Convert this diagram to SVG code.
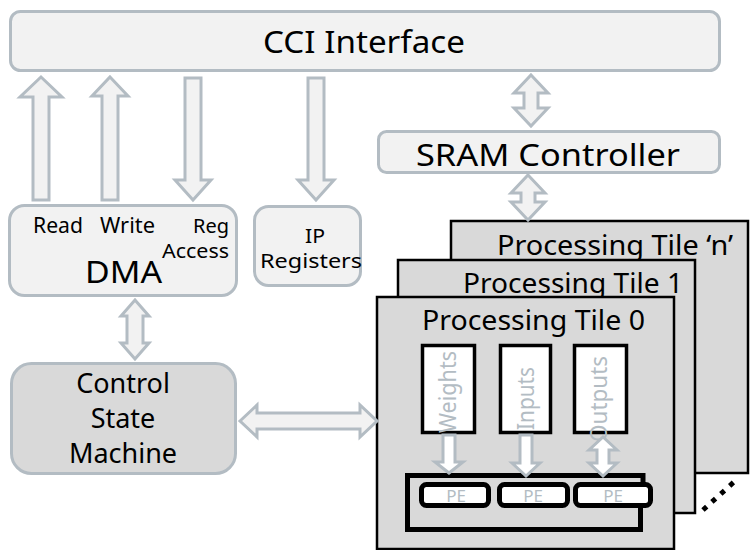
<svg xmlns="http://www.w3.org/2000/svg" width="751" height="550" viewBox="0 0 751 550">
  <style>
    text { font-family: "Noto Sans", "Open Sans", sans-serif; fill: #000; }
    .box { fill: #f2f2f2; stroke: #b3bcc3; stroke-width: 3; }
    .dark { fill: #d9d9d9; stroke: #b3bcc3; stroke-width: 3; }
    .arrow { fill: #f2f2f2; stroke: #b3bcc3; stroke-width: 3; stroke-linejoin: miter; }
    .tile { fill: #d9d9d9; stroke: #000; stroke-width: 2.5; }
    .buf { fill: #fff; stroke: #000; stroke-width: 3.5; }
    .pe { fill: #fff; stroke: #000; stroke-width: 5; }
    .warrow { fill: #fff; stroke: #b3bcc3; stroke-width: 3; }
    .grey { fill: #b3bcc3; }
  </style>

  <!-- top-level blocks -->
  <g id="cci">
    <rect class="box" x="10.5" y="11.5" width="709" height="59" rx="10"/>
    <text x="364" y="53" font-size="31" text-anchor="middle" textLength="202" lengthAdjust="spacingAndGlyphs">CCI Interface</text>
  </g>

  <g id="sram">
    <rect class="box" x="378.5" y="131.5" width="341" height="41" rx="8"/>
    <text x="548" y="166" font-size="31" text-anchor="middle" textLength="264" lengthAdjust="spacingAndGlyphs">SRAM Controller</text>
  </g>

  <g id="dma">
    <rect class="box" x="9.5" y="205.5" width="227" height="90" rx="15"/>
    <text x="33" y="233" font-size="21" textLength="50" lengthAdjust="spacingAndGlyphs">Read</text>
    <text x="100" y="233" font-size="21" textLength="55" lengthAdjust="spacingAndGlyphs">Write</text>
    <text x="229" y="233" font-size="20" text-anchor="end" textLength="36" lengthAdjust="spacingAndGlyphs">Reg</text>
    <text x="229" y="258" font-size="20" text-anchor="end" textLength="67" lengthAdjust="spacingAndGlyphs">Access</text>
    <text x="85" y="283" font-size="30" textLength="77" lengthAdjust="spacingAndGlyphs">DMA</text>
  </g>

  <g id="ip-registers">
    <rect class="box" x="254.5" y="206.5" width="106" height="79" rx="14"/>
    <text x="315" y="243" font-size="20" text-anchor="middle" textLength="20" lengthAdjust="spacingAndGlyphs">IP</text>
    <text x="311" y="268" font-size="20" text-anchor="middle" textLength="102" lengthAdjust="spacingAndGlyphs">Registers</text>
  </g>

  <g id="control-state-machine">
    <rect class="dark" x="11.5" y="363.5" width="224" height="110" rx="20"/>
    <text x="123" y="393" font-size="27" text-anchor="middle">Control</text>
    <text x="123" y="428" font-size="27" text-anchor="middle">State</text>
    <text x="123" y="463" font-size="27" text-anchor="middle">Machine</text>
  </g>

  <!-- stacked processing tiles, back to front -->
  <g id="tile-n">
    <rect class="tile" x="451" y="221" width="297" height="252"/>
    <text x="497" y="255" font-size="28" textLength="236" lengthAdjust="spacingAndGlyphs">Processing Tile ‘n’</text>
  </g>

  <g id="tile-1">
    <rect class="tile" x="398" y="260" width="297" height="253"/>
    <text x="463" y="293" font-size="28" textLength="220" lengthAdjust="spacingAndGlyphs">Processing Tile 1</text>
  </g>

  <g id="tile-0">
    <rect class="tile" x="377" y="297" width="297" height="252"/>
    <text x="422" y="330" font-size="28" textLength="223" lengthAdjust="spacingAndGlyphs">Processing Tile 0</text>

    <g id="weights">
      <rect class="buf" x="422.5" y="345.5" width="52" height="87"/>
      <text class="grey" transform="translate(456 433) rotate(-90)" font-size="24" textLength="82" lengthAdjust="spacingAndGlyphs">Weights</text>
    </g>
    <g id="inputs">
      <rect class="buf" x="500.5" y="345.5" width="50" height="87"/>
      <text class="grey" transform="translate(534 430) rotate(-90)" font-size="24" textLength="63" lengthAdjust="spacingAndGlyphs">Inputs</text>
    </g>
    <g id="outputs">
      <rect class="buf" x="574.5" y="345.5" width="52" height="87"/>
      <text class="grey" transform="translate(607 442) rotate(-90)" font-size="24" textLength="86" lengthAdjust="spacingAndGlyphs">Outputs</text>
    </g>

    <g id="pe-array">
      <path d="M643 495 V475.5 H407.5 V529.5 H640.5 V495" fill="none" stroke="#000" stroke-width="5"/>
      <rect class="pe" x="421.5" y="484.5" width="67" height="21" rx="5"/>
      <text class="grey" x="456" y="501.5" font-size="17" text-anchor="middle">PE</text>
      <rect class="pe" x="499.5" y="484.5" width="68" height="21" rx="5"/>
      <text class="grey" x="533" y="501.5" font-size="17" text-anchor="middle">PE</text>
      <rect class="pe" x="575.5" y="484.5" width="75" height="21" rx="5"/>
      <text class="grey" x="613" y="501.5" font-size="17" text-anchor="middle">PE</text>
    </g>
  </g>

  <!-- more tiles follow -->
  <g id="ellipsis">
    <line x1="703" y1="510" x2="735" y2="481" stroke="#000" stroke-width="5" stroke-dasharray="5 7"/>
  </g>

  <!-- block arrows -->
  <g id="connectors">
    <!-- DMA read / write up to CCI -->
    <polygon class="arrow" points="41,77 62,97 49,97 49,200 33,200 33,97 20,97"/>
    <polygon class="arrow" points="110,77 128,96 118,96 118,200 102,200 102,96 92,96"/>
    <!-- CCI down to register access and IP registers -->
    <polygon class="arrow" points="185,78 201,78 201,180 211,180 193,200 175,180 185,180"/>
    <polygon class="arrow" points="308,78 324,78 324,180 334,180 316,200 298,180 308,180"/>
    <!-- CCI <-> SRAM controller -->
    <polygon class="arrow" points="531,75 548,93 538,93 538,108 548,108 531,126 514,108 524,108 524,93 514,93"/>
    <!-- SRAM controller <-> tiles -->
    <polygon class="arrow" points="528,175 545,193 535,193 535,202 545,202 528,220 511,202 521,202 521,193 511,193"/>
    <!-- DMA <-> control state machine -->
    <polygon class="arrow" points="135,300 149,316 143,316 143,343 149,343 135,359 121,343 127,343 127,316 121,316"/>
    <!-- control state machine <-> tile 0 -->
    <polygon class="arrow" points="240,421 257,405 257,413 360,413 360,405 377,421 360,437 360,429 257,429 257,437"/>
    <!-- buffers to PE array -->
    <polygon class="warrow" points="443,435 455,435 455,462 463,462 449,473 435,462 443,462"/>
    <polygon class="warrow" points="520,435 532,435 532,463 540,463 526,476 512,463 520,463"/>
    <polygon class="warrow" points="603,437 617,450 609,450 609,463 617,463 603,476 589,463 597,463 597,450 589,450"/>
  </g>
</svg>
